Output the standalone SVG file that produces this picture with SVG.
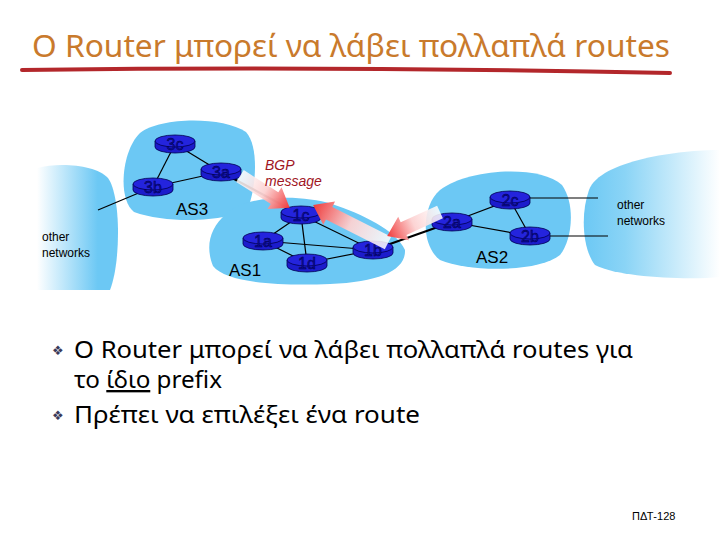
<svg xmlns="http://www.w3.org/2000/svg" width="720" height="540" viewBox="0 0 720 540">
<style>
.title{font-family:"Noto Sans","Open Sans",sans-serif;font-size:30px;fill:#c97a2c}
.body{font-family:"Noto Sans","Open Sans",sans-serif;font-size:23.5px;fill:#000}
.bul{font-family:"DejaVu Sans",sans-serif;font-size:13px;fill:#3a3a5a}
.small{font-family:"Liberation Sans",Arial,sans-serif;font-size:12px;fill:#000}
.as{font-family:"Liberation Sans",Arial,sans-serif;font-size:17px;fill:#000}
.bgp{font-family:"Liberation Sans",Arial,sans-serif;font-size:14px;font-style:italic;fill:#a0141e}
.cloud{fill:#6cc8f4}
.link{stroke:#000;stroke-width:1.2;fill:none}
.thick{stroke:#000;stroke-width:2.2;fill:none}
.rbody{fill:#1c1ccc;stroke:#000050;stroke-width:0.8}
.rtop{fill:#2424dd;stroke:#000050;stroke-width:0.8}
.rlbl{font-family:"Liberation Sans",Arial,sans-serif;font-size:16px;fill:#0a0a9a;stroke:#000040;stroke-width:0.4;text-anchor:middle}
.foot{font-family:"Liberation Sans",Arial,sans-serif;font-size:11px;fill:#000}
</style>
<defs>
<linearGradient id="gl" x1="0" y1="0" x2="1" y2="0">
<stop offset="0" stop-color="#ffffff"/>
<stop offset="0.75" stop-color="#6cc8f4"/>
<stop offset="1" stop-color="#6cc8f4"/>
</linearGradient>
<linearGradient id="gr" x1="0" y1="0" x2="1" y2="0">
<stop offset="0" stop-color="#6cc8f4"/>
<stop offset="0.3" stop-color="#8ad4f6"/>
<stop offset="1" stop-color="#ffffff"/>
</linearGradient>
<linearGradient id="ga" x1="0" y1="0" x2="1" y2="0">
<stop offset="0" stop-color="#ffffff" stop-opacity="0.85"/>
<stop offset="0.5" stop-color="#fcd2d2" stop-opacity="0.95"/>
<stop offset="1" stop-color="#f03a3a"/>
</linearGradient>
<g id="router">
<path class="rbody" d="M-20,-3 L-20,3 A20,6 0 0 0 20,3 L20,-3 Z"/>
<ellipse class="rtop" cx="0" cy="-3" rx="20" ry="6"/>
</g>
</defs>
<rect width="720" height="540" fill="#fff"/>

<text class="title" x="32" y="57" textLength="638" lengthAdjust="spacingAndGlyphs">Ο Router μπορεί να λάβει πολλαπλά routes</text>
<path d="M22,70 Q340,66 670,73" stroke="#b3272b" stroke-width="4" fill="none" stroke-linecap="round"/>

<g id="other-left">
<path d="M37,168 C60,162 96,165 108,178 C121,196 121,262 110,290 L37,290 Z" fill="url(#gl)"/>
<text class="small" x="42" y="241">other</text>
<text class="small" x="42" y="257">networks</text>
</g>
<g id="other-right">
<path d="M720,150 C680,150 600,160 589,190 C580,215 583,250 595,265 C620,278 690,280 720,277 Z" fill="url(#gr)"/>
<text class="small" x="617" y="209">other</text>
<text class="small" x="617" y="225">networks</text>
</g>
<g id="AS3">
<path class="cloud" d="M140,133 C160,117 222,116 246,132 C259,146 256,186 249,205 C236,222 170,225 134,212 C117,199 122,150 140,133 Z"/>
<text class="as" x="176" y="215">AS3</text>
</g>
<g id="AS1">
<path class="cloud" d="M226,214 C246,195 300,194 332,204 C362,214 396,230 405,250 C406,270 380,282 330,284 C280,286 226,283 213,266 C205,246 210,228 226,214 Z"/>
<text class="as" x="229" y="276">AS1</text>
</g>
<g id="AS2">
<path class="cloud" d="M440,190 C470,168 540,165 562,185 C576,205 572,240 560,255 C540,272 470,273 440,260 C420,245 422,205 440,190 Z"/>
<text class="as" x="476" y="263">AS2</text>
</g>

<g id="connectors">
<line class="link" x1="175" y1="144" x2="153" y2="187"/>
<line class="link" x1="175" y1="144" x2="221" y2="172"/>
<line class="link" x1="153" y1="187" x2="221" y2="172"/>
<line class="link" x1="153" y1="187" x2="98" y2="210"/>
<line class="thick" x1="221" y1="172" x2="301" y2="215"/>
<line class="link" x1="301" y1="215" x2="263" y2="241"/>
<line class="link" x1="301" y1="215" x2="307" y2="263"/>
<line class="link" x1="301" y1="215" x2="373" y2="250"/>
<line class="link" x1="263" y1="241" x2="373" y2="250"/>
<line class="link" x1="263" y1="241" x2="307" y2="263"/>
<line class="link" x1="307" y1="263" x2="373" y2="250"/>
<line class="thick" x1="373" y1="250" x2="452" y2="222"/>
<line class="link" x1="452" y1="222" x2="510" y2="200"/>
<line class="link" x1="452" y1="222" x2="530" y2="236"/>
<line class="link" x1="510" y1="200" x2="530" y2="236"/>
<line class="link" x1="510" y1="198" x2="598" y2="198"/>
<line class="link" x1="530" y1="236" x2="608" y2="236"/>
</g>

<g id="r3c"><use href="#router" x="175" y="144"/><text class="rlbl" x="175" y="150">3c</text></g>
<g id="r3a"><use href="#router" x="221" y="172"/><text class="rlbl" x="221" y="178">3a</text></g>
<g id="r3b"><use href="#router" x="153" y="187"/><text class="rlbl" x="153" y="193">3b</text></g>
<g id="r1c"><use href="#router" x="301" y="215"/><text class="rlbl" x="301" y="221">1c</text></g>
<g id="r1a"><use href="#router" x="263" y="241"/><text class="rlbl" x="263" y="247">1a</text></g>
<g id="r1d"><use href="#router" x="307" y="263"/><text class="rlbl" x="307" y="269">1d</text></g>
<g id="r1b"><use href="#router" x="373" y="250"/><text class="rlbl" x="373" y="256">1b</text></g>
<g id="r2a"><use href="#router" x="452" y="222"/><text class="rlbl" x="452" y="228">2a</text></g>
<g id="r2c"><use href="#router" x="510" y="200"/><text class="rlbl" x="510" y="206">2c</text></g>
<g id="r2b"><use href="#router" x="530" y="236"/><text class="rlbl" x="530" y="242">2b</text></g>

<g id="bgp-arrows">
<polygon points="0,-7 41,-7 41,-13 59,0 41,13 41,7 0,7" fill="url(#ga)" transform="translate(240,176) rotate(32.6)"/>
<polygon points="0,-7 66,-7 66,-13 84,0 66,13 66,7 0,7" fill="url(#ga)" transform="translate(388,243) rotate(206.9)"/>
<polygon points="0,-7 40,-7 40,-13 58,0 40,13 40,7 0,7" fill="url(#ga)" transform="translate(440,212) rotate(155.6)"/>
</g>
<text class="bgp" x="265" y="170">BGP</text>
<text class="bgp" x="265" y="186">message</text>

<text class="bul" x="52" y="355">❖</text>
<text class="body" x="74" y="358" textLength="559" lengthAdjust="spacingAndGlyphs">Ο Router μπορεί να λάβει πολλαπλά routes για</text>
<text class="body" x="74" y="388" textLength="148" lengthAdjust="spacingAndGlyphs">το <tspan text-decoration="underline">ίδιο</tspan> prefix</text>
<text class="bul" x="52" y="420">❖</text>
<text class="body" x="74" y="423" textLength="346" lengthAdjust="spacingAndGlyphs">Πρέπει να επιλέξει ένα route</text>

<text class="foot" x="632" y="520">ΠΔΤ-128</text>
</svg>
